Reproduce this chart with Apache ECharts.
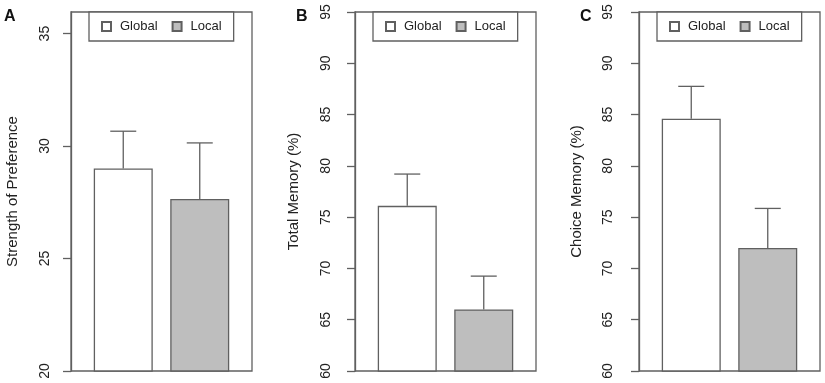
<!DOCTYPE html>
<html>
<head>
<meta charset="utf-8">
<title>Preference and memory</title>
<script src="https://cdn.jsdelivr.net/npm/echarts@6/dist/echarts.min.js"></script>
<style>
*{margin:0;padding:0;}
body{background:#fff;}
#main{width:825px;height:383px;}
</style>
</head>
<body>
<div id="main"></div>
<script>
// data
var groups = ['Global', 'Local'];
var prefMean = [29.0, 27.65];
var prefUpper = [30.66, 30.14];
var totalMean = [76.1, 66.0];
var totalUpper = [79.2, 69.25];
var choiceMean = [84.6, 72.0];
var choiceUpper = [87.75, 75.85];
var prefTicks = [20, 25, 30, 35];
var memTicks = [60, 65, 70, 75, 80, 85, 90, 95];

var lineCol = '#606060';
var textCol = '#222';
var font = 'Liberation Sans';
var barW = 59, barGapPx = 17.5, capW = 26;

var panels = [
    {letter: 'A', left: 71, name: 'Strength of Preference', min: 20, max: 35.96, ticks: prefTicks, mean: prefMean, upper: prefUpper, margin: 19, nameGap: 51},
    {letter: 'B', left: 355, name: 'Total Memory (%)', min: 60, max: 95, ticks: memTicks, mean: totalMean, upper: totalUpper, margin: 22, nameGap: 54},
    {letter: 'C', left: 639, name: 'Choice Memory (%)', min: 60, max: 95, ticks: memTicks, mean: choiceMean, upper: choiceUpper, margin: 24, nameGap: 55}
];

function errorBar(params, api) {
    var k = api.value(3);
    var p0 = api.coord([0, api.value(1)]);
    var p1 = api.coord([0, api.value(2)]);
    var x = p0[0] + (k === 0 ? -1 : 1) * (barW + barGapPx) / 2;
    var st = {stroke: lineCol, lineWidth: 1.3};
    return {
        type: 'group',
        children: [
            {type: 'line', shape: {x1: x, y1: p0[1], x2: x, y2: p1[1]}, style: st},
            {type: 'line', shape: {x1: x - capW / 2, y1: p1[1], x2: x + capW / 2, y2: p1[1]}, style: st}
        ]
    };
}

var grid = [], xAxis = [], yAxis = [], series = [], legend = [], graphic = [];
panels.forEach(function (p, i) {
    grid.push({left: p.left, top: 12, width: 181, height: 359, show: true,
        borderColor: lineCol, borderWidth: 1.3, backgroundColor: 'transparent'});
    xAxis.push({gridIndex: i, type: 'category', data: [''],
        axisLine: {show: false}, axisTick: {show: false}, axisLabel: {show: false}});
    yAxis.push({gridIndex: i, type: 'value', min: p.min, max: p.max,
        name: p.name, nameLocation: 'middle', nameGap: p.nameGap,
        nameTextStyle: {color: textCol, fontSize: 15, fontFamily: font},
        axisLine: {show: true, lineStyle: {color: lineCol, width: 1.3}},
        axisTick: {show: true, length: 8, customValues: p.ticks, lineStyle: {color: lineCol, width: 1.3}},
        axisLabel: {customValues: p.ticks, rotate: 90, margin: p.margin, color: textCol, fontSize: 14, fontFamily: font},
        splitLine: {show: false}});
    series.push({name: 'Global', type: 'bar', xAxisIndex: i, yAxisIndex: i,
        barWidth: barW, barGap: (barGapPx / barW * 100) + '%', data: [p.mean[0]],
        itemStyle: {color: '#fff', borderColor: lineCol, borderWidth: 1.3}});
    series.push({name: 'Local', type: 'bar', xAxisIndex: i, yAxisIndex: i,
        barWidth: barW, data: [p.mean[1]],
        itemStyle: {color: '#bebebe', borderColor: lineCol, borderWidth: 1.3}});
    series.push({type: 'custom', xAxisIndex: i, yAxisIndex: i, renderItem: errorBar,
        data: [[0, p.mean[0], p.upper[0], 0], [0, p.mean[1], p.upper[1], 1]], z: 3});
    legend.push({data: groups, left: p.left + 18, top: 12, orient: 'horizontal',
        selectedMode: false, icon: 'rect', itemWidth: 9, itemHeight: 9, itemGap: 14,
        padding: [8, 12, 8, 12], borderColor: lineCol, borderWidth: 1.3,
        backgroundColor: '#fff',
        textStyle: {color: textCol, fontSize: 13, fontFamily: font, padding: [0, 0, 0, 4]}});
    graphic.push({type: 'text', left: [4, 296, 580][i], top: 9,
        style: {text: p.letter, fill: '#111', font: 'bold 16px "Liberation Sans"'}});
});

var myChart = echarts.init(document.getElementById('main'));
myChart.setOption({
    animation: false,
    grid: grid,
    xAxis: xAxis,
    yAxis: yAxis,
    legend: legend,
    graphic: graphic,
    series: series
});
</script>
</body>
</html>
